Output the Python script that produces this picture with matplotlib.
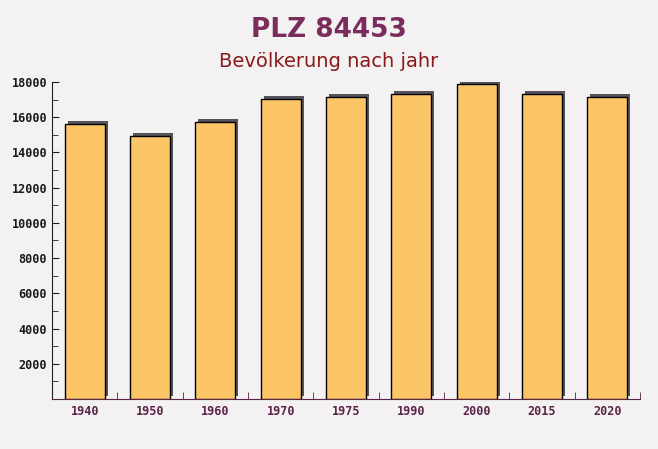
import matplotlib.pyplot as plt
import matplotlib.patheffects as pe
from matplotlib.ticker import MultipleLocator

years = ["1940", "1950", "1960", "1970", "1975", "1990", "2000", "2015", "2020"]
population = [15610, 14950, 15720, 17040, 17160, 17330, 17900, 17330, 17160]

fig = plt.figure(figsize=(6.58, 4.49), dpi=100)
fig.patch.set_facecolor("#f3f1f1")
ax = fig.add_axes([0.079, 0.1114, 0.8936, 0.706])
ax.set_facecolor("none")

bars = ax.bar(range(len(years)), population, width=0.61, color="#fcc566",
              edgecolor="black", linewidth=1.0, zorder=3)
for b in bars:
    b.set_path_effects([pe.SimplePatchShadow(offset=(2.2, 2.2), shadow_rgbFace="#57535b", alpha=1.0),
                        pe.Normal()])

ax.set_xlim(-0.5, len(years) - 0.5)
ax.set_ylim(0, 18000)
ax.set_xticks(range(len(years)))
ax.set_xticklabels(years)
ax.set_xticks([i + 0.5 for i in range(len(years))], minor=True)
ax.yaxis.set_minor_locator(MultipleLocator(1000))
ax.set_yticks([2000, 4000, 6000, 8000, 10000, 12000, 14000, 16000, 18000])

for s in ["top", "right"]:
    ax.spines[s].set_visible(False)
ax.spines["left"].set_color("#222222")
ax.spines["bottom"].set_color("#5a2448")

ax.tick_params(axis="y", which="major", direction="in", length=5, color="#222222")
ax.tick_params(axis="y", which="minor", direction="in", length=4, color="#222222")
ax.tick_params(axis="x", which="major", length=0, pad=4.5)
ax.tick_params(axis="x", which="minor", direction="in", length=5, color="#5a2448")

for lab in ax.get_yticklabels():
    lab.set_fontfamily("DejaVu Sans Mono")
    lab.set_fontweight("bold")
    lab.set_fontsize(8.5)
    lab.set_color("#1a1a1a")
for lab in ax.get_xticklabels():
    lab.set_fontfamily("DejaVu Sans Mono")
    lab.set_fontweight("bold")
    lab.set_fontsize(8.5)
    lab.set_color("#5a2448")

fig.text(0.5, 0.933, "PLZ 84453", ha="center", va="center", fontsize=19,
         fontweight="bold", color="#7a2d5c")
fig.text(0.5, 0.862, "Bevölkerung nach jahr", ha="center", va="center",
         fontsize=14, color="#8b1a1a")

fig.savefig("out.png", dpi=100, facecolor=fig.get_facecolor())
